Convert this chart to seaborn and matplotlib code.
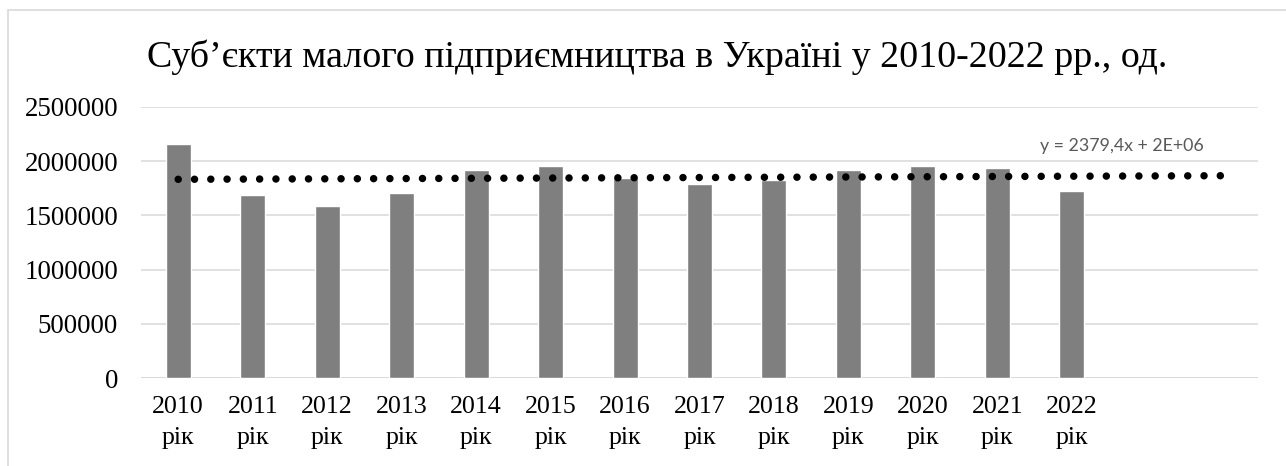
import numpy as np
import pandas as pd
import matplotlib
matplotlib.use("Agg")
import matplotlib.pyplot as plt
import seaborn as sns
from matplotlib.patches import Rectangle

# ---- data ----
years = ["2010", "2011", "2012", "2013", "2014", "2015", "2016",
         "2017", "2018", "2019", "2020", "2021", "2022"]
tick_labels = [f"{y}\nрік" for y in years]
values = [2162000, 1684000, 1586000, 1703000, 1915000, 1960000, 1849000,
          1788000, 1822000, 1923000, 1958000, 1938000, 1724000]
forecast_forward = 2
title = "Суб’єкти малого підприємництва в Україні у 2010-2022 рр., од."
trend_label = "y = 2379,4x + 2E+06"
yticks = [0, 500000, 1000000, 1500000, 2000000, 2500000]

df = pd.DataFrame({"year": tick_labels, "value": values})

sns.set_theme(style="white")
plt.rcParams["font.family"] = ["Liberation Serif", "DejaVu Serif"]

W, H = 1286, 466
fig = plt.figure(figsize=(W / 100, H / 100), dpi=100)
fig.patch.set_facecolor("white")

# chart frame (cropped at right/bottom)
fig.add_artist(Rectangle((8 / W, -0.1), 1.2, 1 - 10 / H + 0.1,
                         transform=fig.transFigure, fill=False,
                         edgecolor="#d9d9d9", linewidth=1.2))

ax = fig.add_axes([141 / W, 1 - 378 / H, (1258 - 141) / W, 271 / H])

sns.barplot(data=df, x="year", y="value", color="#7f7f7f", width=0.335,
            saturation=1, ax=ax, zorder=3)

# linear trendline (Excel style, forecast forward 2 periods)
n = len(values)
xs = np.arange(1, n + 1)
slope, intercept = np.polyfit(xs, values, 1)
xt = np.arange(1, n + forecast_forward + 1)
ax.plot(xt - 1, slope * xt + intercept, color="black", linewidth=5.4,
        linestyle=(0, (0.001, 2.17)), dash_capstyle="round", zorder=4)

ax.set_xlim(-0.5, n + forecast_forward - 0.5)
ax.set_ylim(0, 2500000)
ax.set_yticks(yticks)
ax.set_yticklabels([str(v) for v in yticks])
ax.set_xlabel("")
ax.set_ylabel("")
ax.grid(axis="y", color="#d9d9d9", linewidth=1.1, zorder=0)
ax.set_axisbelow(True)
for s in ["top", "right", "left", "bottom"]:
    ax.spines[s].set_visible(False)
ax.axhline(0, color="#d9d9d9", linewidth=1.3, zorder=2)

ax.tick_params(axis="y", length=0, pad=16.5, labelsize=19.4, labelcolor="black")
ax.tick_params(axis="x", length=0, pad=13, labelsize=18.7, labelcolor="black")
for lab in ax.get_xticklabels():
    lab.set_linespacing(1.5)

fig.text(657 / W, 1 - 67 / H, title, ha="center", va="baseline",
         fontsize=27.4, color="black")
fig.text(1040 / W, 1 - 146 / H, trend_label, ha="left", va="center",
         fontsize=12.8, color="#595959", family=["Lato", "DejaVu Sans"])

fig.savefig("out.png", dpi=100)
